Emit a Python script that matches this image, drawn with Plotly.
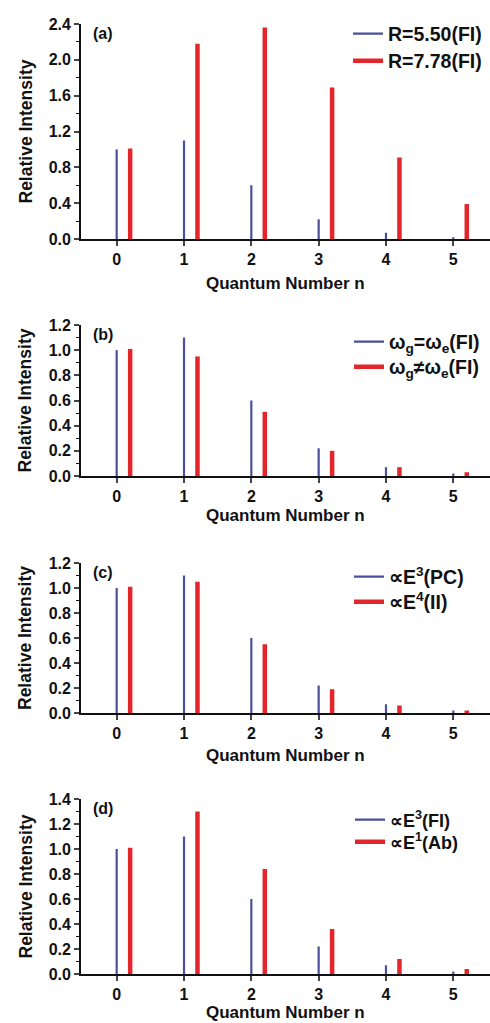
import plotly.graph_objects as go

n_levels = [0, 1, 2, 3, 4, 5]
red_offset = 0.2

blue_a = [1.00, 1.10, 0.60, 0.22, 0.07, 0.02]
red_a = [1.01, 2.18, 2.36, 1.69, 0.91, 0.39]
blue_b = [1.00, 1.10, 0.60, 0.22, 0.07, 0.02]
red_b = [1.01, 0.95, 0.51, 0.20, 0.07, 0.03]
blue_c = [1.00, 1.10, 0.60, 0.22, 0.07, 0.02]
red_c = [1.01, 1.05, 0.55, 0.19, 0.06, 0.02]
blue_d = [1.00, 1.10, 0.60, 0.22, 0.07, 0.02]
red_d = [1.01, 1.30, 0.84, 0.36, 0.12, 0.04]

legend_a = ["R=5.50(FI)", "R=7.78(FI)"]
legend_b = ["ω<sub>g</sub>=ω<sub>e</sub>(FI)", "ω<sub>g</sub>≠ω<sub>e</sub>(FI)"]
legend_c = ["∝E<sup>3</sup>(PC)", "∝E<sup>4</sup>(II)"]
legend_d = ["∝E<sup>3</sup>(FI)", "∝E<sup>1</sup>(Ab)"]
panel_labels = ["(a)", "(b)", "(c)", "(d)"]
y_ranges = [[0, 2.4], [0, 1.2], [0, 1.2], [0, 1.4]]
y_dticks = [0.4, 0.2, 0.2, 0.2]
y_minor = [0.2, 0.1, 0.1, 0.1]

BLUE = "#4b509c"
RED = "#e3262b"
FONT = "Liberation Sans"

W, H = 490, 1023
ML, MR, MT, MB = 81, 0, 24, 49
PW = W - ML - MR
PH = H - MT - MB
# panel pixel extents (top, bottom)
panels_px = [(24, 239), (325, 476), (563, 713), (799, 974)]
domains = [[1 - (b - MT) / PH, 1 - (t - MT) / PH] for t, b in panels_px]
# legend entries: (line start x, row center y) for blue and red rows
legend_rows = [[(362, 34), (362, 61)],
               [(363, 342), (363, 367)],
               [(363, 577), (363, 602)],
               [(364, 820), (364, 842)]]
legend_font = [19.5, 19.5, 19.5, 18]
xtitle_shift = [-44, -39, -42, -38]


def stems(xs, ys, off=0.0):
    X, Y = [], []
    for x, y in zip(xs, ys):
        X += [x + off, x + off, None]
        Y += [0, y, None]
    return X, Y


fig = go.Figure()
datasets = [(blue_a, red_a, legend_a), (blue_b, red_b, legend_b),
            (blue_c, red_c, legend_c), (blue_d, red_d, legend_d)]

for i, (bv, rv, leg) in enumerate(datasets):
    k = "" if i == 0 else str(i + 1)
    lg_b = "legend" if i == 0 else f"legend{2 * i + 1}"
    lg_r = f"legend{2 * i + 2}"
    bx, by = stems(n_levels, bv)
    rx, ry = stems(n_levels, rv, red_offset)
    fig.add_trace(go.Scatter(x=bx, y=by, mode="lines", name=leg[0],
                             line=dict(color=BLUE, width=2.2),
                             xaxis="x" + k, yaxis="y" + k, legend=lg_b,
                             showlegend=True))
    fig.add_trace(go.Scatter(x=rx, y=ry, mode="lines", name=leg[1],
                             line=dict(color=RED, width=4.5),
                             xaxis="x" + k, yaxis="y" + k, legend=lg_r,
                             showlegend=True))

layout = dict(
    width=W, height=H,
    margin=dict(l=ML, r=MR, t=MT, b=MB),
    paper_bgcolor="white", plot_bgcolor="white",
    font=dict(family=FONT, color="#111", size=16, weight="bold"),
    showlegend=True,
    annotations=[],
)

for i in range(4):
    k = "" if i == 0 else str(i + 1)
    layout["xaxis" + k] = dict(
        domain=[0, 1], range=[-0.53, 5.545], anchor="y" + k,
        tickvals=n_levels, ticks="outside", ticklen=5, tickwidth=1.5,
        showline=True, linecolor="#111", linewidth=1.8, showgrid=False,
        zeroline=False, tickfont=dict(size=16, family=FONT, weight="bold"),
        ticklabelstandoff=0,
    )
    layout["yaxis" + k] = dict(
        domain=domains[i], range=y_ranges[i], anchor="x" + k,
        dtick=y_dticks[i], tickformat=".1f", ticks="outside", ticklen=5,
        tickwidth=1.5, showline=True, linecolor="#111", linewidth=1.8,
        showgrid=False, zeroline=False,
        minor=dict(dtick=y_minor[i], ticks="outside", ticklen=3, tickwidth=1.2,
                   tickcolor="#111", showgrid=False),
        tickfont=dict(size=16, family=FONT, weight="bold"),
    )
    names = ["legend" if i == 0 else f"legend{2 * i + 1}", f"legend{2 * i + 2}"]
    for lg, (lx, ly) in zip(names, legend_rows[i]):
        layout[lg] = dict(
            visible=True,
            x=(lx - 14 - ML) / PW, xanchor="left",
            y=1 - (ly - MT) / PH, yanchor="middle",
            bgcolor="rgba(0,0,0,0)",
            font=dict(size=legend_font[i], family=FONT, weight="bold"),
            itemwidth=30,
        )
    # panel label
    layout["annotations"].append(dict(
        text=panel_labels[i], x=-0.38, y=y_ranges[i][1], xref="x" + k,
        yref="y" + k, xanchor="left", yanchor="top", showarrow=False,
        font=dict(size=16, family=FONT, weight="bold"), yshift=1))
    # axis titles
    layout["annotations"].append(dict(
        text="Quantum Number n", x=2.5, xref="x" + k, y=domains[i][0],
        yref="paper", yanchor="middle", yshift=xtitle_shift[i], showarrow=False,
        font=dict(size=17, family=FONT, weight="bold")))
    layout["annotations"].append(dict(
        text="Relative Intensity", x=0, xref="paper", xshift=-56,
        y=(domains[i][0] + domains[i][1]) / 2, yref="paper", textangle=-90,
        xanchor="center", yanchor="middle", showarrow=False,
        font=dict(size=17.5, family=FONT, weight="bold")))

fig.update_layout(**layout)
fig.write_html("out.html", config={"displayModeBar": False},
               post_script="document.body.style.margin='0';document.body.style.overflow='hidden';")
